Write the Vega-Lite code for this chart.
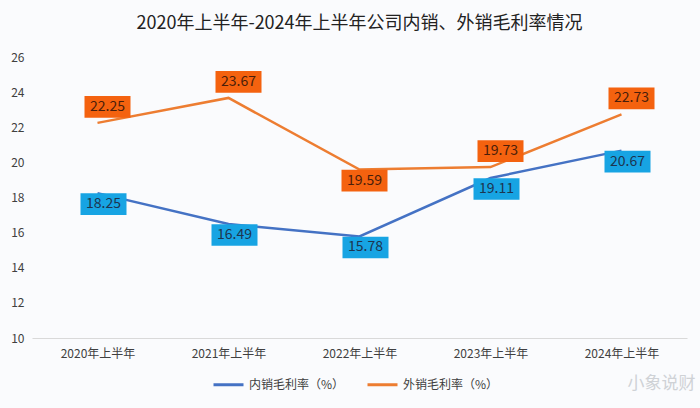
{
  "$schema": "https://vega.github.io/schema/vega-lite/v6.json",
  "width": 655,
  "height": 281,
  "autosize": {"type": "none"},
  "padding": {"left": 32, "top": 57, "right": 13, "bottom": 70},
  "background": "#fafbfd",
  "config": {
    "font": "Noto Sans CJK SC",
    "view": {"stroke": null}
  },
  "title": {
    "text": "2020年上半年-2024年上半年公司内销、外销毛利率情况",
    "fontSize": 18,
    "fontWeight": "normal",
    "color": "#222222",
    "anchor": "middle",
    "offset": 18
  },
  "data": {
    "values": [
      {"period": "2020年上半年", "series": "内销毛利率（%）", "value": 18.25},
      {"period": "2021年上半年", "series": "内销毛利率（%）", "value": 16.49},
      {"period": "2022年上半年", "series": "内销毛利率（%）", "value": 15.78},
      {"period": "2023年上半年", "series": "内销毛利率（%）", "value": 19.11},
      {"period": "2024年上半年", "series": "内销毛利率（%）", "value": 20.67},
      {"period": "2020年上半年", "series": "外销毛利率（%）", "value": 22.25},
      {"period": "2021年上半年", "series": "外销毛利率（%）", "value": 23.67},
      {"period": "2022年上半年", "series": "外销毛利率（%）", "value": 19.59},
      {"period": "2023年上半年", "series": "外销毛利率（%）", "value": 19.73},
      {"period": "2024年上半年", "series": "外销毛利率（%）", "value": 22.73}
    ]
  },
  "encoding": {
    "x": {
      "field": "period",
      "type": "ordinal",
      "scale": {"type": "point", "padding": 0.5},
      "axis": {
        "title": null,
        "labelAngle": 0,
        "labelFontSize": 12,
        "labelColor": "#404040",
        "labelPadding": 10,
        "domainColor": "#d9d9d9",
        "ticks": false,
        "grid": false
      }
    },
    "y": {
      "field": "value",
      "type": "quantitative",
      "scale": {"domain": [10, 26]},
      "axis": {
        "title": null,
        "values": [10, 12, 14, 16, 18, 20, 22, 24, 26],
        "labelFontSize": 12,
        "labelColor": "#404040",
        "labelPadding": 8,
        "domain": false,
        "ticks": false,
        "grid": false
      }
    }
  },
  "layer": [
    {
      "mark": {"type": "line", "strokeWidth": 2.5},
      "encoding": {
        "color": {
          "field": "series",
          "type": "nominal",
          "scale": {"domain": ["内销毛利率（%）", "外销毛利率（%）"], "range": ["#4472C4", "#ED7D31"]},
          "legend": {
            "title": null,
            "orient": "none",
            "legendX": 180,
            "legendY": 311,
            "direction": "horizontal",
            "symbolType": "stroke",
            "symbolSize": 900,
            "symbolStrokeWidth": 3,
            "labelFontSize": 12,
            "labelColor": "#404040",
            "columnPadding": 16
          }
        }
      }
    },
    {
      "transform": [{"filter": "datum.series == '外销毛利率（%）' && datum.period != '2022年上半年'"}],
      "layer": [
        {"mark": {"type": "point", "shape": "M-1,-0.47L1,-0.47L1,0.47L-1,0.47Z", "size": 2116, "filled": true, "color": "#F4620F", "opacity": 1, "xOffset": 10, "yOffset": -16}},
        {"mark": {"type": "text", "fontSize": 14, "color": "#4a1e0a", "dx": 10, "dy": -16}, "encoding": {"text": {"field": "value", "type": "quantitative", "format": ".2f"}}}
      ]
    },
    {
      "transform": [{"filter": "datum.series == '外销毛利率（%）' && datum.period == '2022年上半年'"}],
      "layer": [
        {"mark": {"type": "point", "shape": "M-1,-0.47L1,-0.47L1,0.47L-1,0.47Z", "size": 2116, "filled": true, "color": "#F4620F", "opacity": 1, "xOffset": 5, "yOffset": 11}},
        {"mark": {"type": "text", "fontSize": 14, "color": "#4a1e0a", "dx": 5, "dy": 11}, "encoding": {"text": {"field": "value", "type": "quantitative", "format": ".2f"}}}
      ]
    },
    {
      "transform": [{"filter": "datum.series == '内销毛利率（%）'"}],
      "layer": [
        {"mark": {"type": "point", "shape": "M-1,-0.47L1,-0.47L1,0.47L-1,0.47Z", "size": 2116, "filled": true, "color": "#17A4E3", "opacity": 1, "xOffset": 6, "yOffset": 11}},
        {"mark": {"type": "text", "fontSize": 14, "color": "#1d3550", "dx": 6, "dy": 11}, "encoding": {"text": {"field": "value", "type": "quantitative", "format": ".2f"}}}
      ]
    },
    {
      "data": {"values": [{"period": "2024年上半年", "value": 7.4, "mark": "小象说财"}]},
      "mark": {"type": "text", "fontSize": 17, "color": "#cfd2d6", "dx": 40},
      "encoding": {"text": {"field": "mark", "type": "nominal"}}
    }
  ]
}
